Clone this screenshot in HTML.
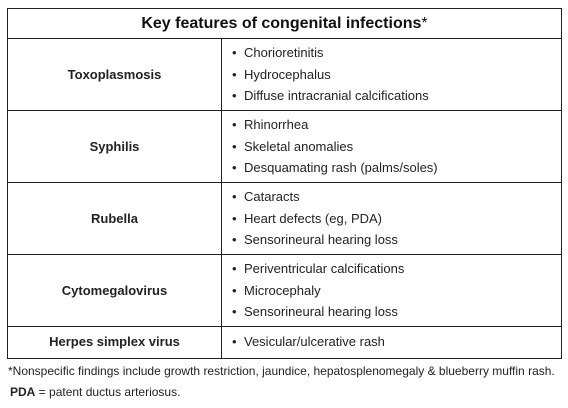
<!DOCTYPE html>
<html><head><meta charset="utf-8"><style>
body{margin:0;width:568px;height:408px;background:#fff;font-family:"Liberation Sans",Arial,sans-serif;color:#222;position:relative;overflow:hidden}
.a{position:absolute}
.ln{position:absolute;background:#222}
.t{position:absolute;font-size:13px;line-height:16px;white-space:nowrap}
.n{position:absolute;left:8px;width:213px;text-align:center;font-weight:bold;font-size:13px}
.b::before{content:"•";position:absolute;left:-12px}
</style></head><body>
<div class="a" style="left:7px;top:8px;width:553px;height:349px;border:1px solid #222"></div>
<div class="ln" style="left:221px;top:38px;width:1px;height:320px"></div>
<div class="ln" style="left:7px;top:38px;width:555px;height:1px"></div>
<div class="ln" style="left:7px;top:110px;width:555px;height:1px"></div>
<div class="ln" style="left:7px;top:182px;width:555px;height:1px"></div>
<div class="ln" style="left:7px;top:254px;width:555px;height:1px"></div>
<div class="ln" style="left:7px;top:326px;width:555px;height:1px"></div>
<div class="a" style="left:8px;width:553px;top:15px;text-align:center;font-size:16px;font-weight:bold;color:#111">Key features of congenital infections<span style="font-weight:normal">*</span></div>

<div class="n" style="top:67px">Toxoplasmosis</div>
<div class="t b" style="left:244px;top:45px">Chorioretinitis</div>
<div class="t b" style="left:244px;top:67px">Hydrocephalus</div>
<div class="t b" style="left:244px;top:88px">Diffuse intracranial calcifications</div>

<div class="n" style="top:139px">Syphilis</div>
<div class="t b" style="left:244px;top:117px">Rhinorrhea</div>
<div class="t b" style="left:244px;top:139px">Skeletal anomalies</div>
<div class="t b" style="left:244px;top:160px">Desquamating rash (palms/soles)</div>

<div class="n" style="top:211px">Rubella</div>
<div class="t b" style="left:244px;top:189px">Cataracts</div>
<div class="t b" style="left:244px;top:211px">Heart defects (eg, PDA)</div>
<div class="t b" style="left:244px;top:232px">Sensorineural hearing loss</div>

<div class="n" style="top:283px">Cytomegalovirus</div>
<div class="t b" style="left:244px;top:261px">Periventricular calcifications</div>
<div class="t b" style="left:244px;top:283px">Microcephaly</div>
<div class="t b" style="left:244px;top:304px">Sensorineural hearing loss</div>

<div class="n" style="top:334px">Herpes simplex virus</div>
<div class="t b" style="left:244px;top:334px">Vesicular/ulcerative rash</div>

<div class="t" style="left:8px;top:363px;font-size:12px">*Nonspecific findings include growth restriction, jaundice, hepatosplenomegaly &amp; blueberry muffin rash.</div>
<div class="t" style="left:10px;top:384px;font-size:12px"><b>PDA</b> = patent ductus arteriosus.</div>
</body></html>
